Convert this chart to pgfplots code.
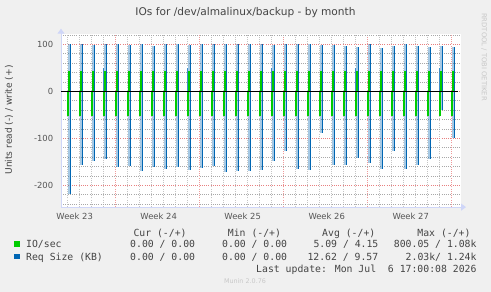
\documentclass[border=0pt]{standalone}
\usepackage{pgfplots}
\pgfplotsset{compat=1.18}
\usepackage{pgfplotstable}
\usetikzlibrary{arrows.meta}
\usepackage{fontspec}
\setmainfont{DejaVu Sans}
\newfontfamily\monof{DejaVu Sans Mono}
\definecolor{bgc}{HTML}{F0F0F0}
\definecolor{axc}{HTML}{CFD6F8}
\definecolor{mgridx}{HTML}{EE9A9A}
\definecolor{mgridy}{HTML}{E88080}
\definecolor{mngridx}{HTML}{C4C4C4}
\definecolor{mngridy}{HTML}{A8A8A8}
\definecolor{mgreen}{HTML}{00CC00}
\definecolor{mblue}{HTML}{0066B3}
\definecolor{txt}{HTML}{444444}
\definecolor{tickc}{HTML}{555555}
\definecolor{faint}{HTML}{C8C8C8}

% d = day grid position; gw/gr = IO/sec write/read; bw/br = Req size write/read; hump = extra write peak
\pgfplotstableread{
d gw gr bw br hump
0.54 44 -53 100 -218 0
1.54 44 -53 100 -156 0
2.54 44 -53 98 -148 0
3.54 44 -53 100 -143 49
4.54 44 -53 100 -160 0
5.54 44 -53 98 -159 0
6.54 44 -53 100 -169 0
7.54 44 -53 96 -160 0
8.54 44 -53 100 -165 0
9.54 44 -53 100 -160 0
10.54 44 -53 98 -167 49
11.54 44 -53 100 -162 0
12.54 44 -53 102 -159 0
13.54 44 -53 100 -171 0
14.54 44 -53 100 -169 0
15.54 44 -53 101 -169 0
16.54 44 -53 100 -166 0
17.54 44 -53 98 -148 51
18.54 44 -53 100 -127 0
19.54 44 -53 101 -165 0
20.54 44 -53 100 -166 0
21.54 44 -53 98 -88 0
22.54 44 -53 98 -156 0
23.54 44 -53 96 -156 0
24.54 44 -53 94 -141 49
25.54 44 -53 101 -152 0
26.54 44 -53 93 -165 0
27.54 44 -53 96 -127 0
28.54 44 -53 100 -165 0
29.54 44 -53 96 -156 0
30.54 44 -53 94 -143 0
31.54 44 -53 97 -40 50
32.54 44 -53 94 -99 0
}\spikes

\begin{document}
\begin{tikzpicture}
\fill[bgc] (0bp,0bp) rectangle (491bp,292bp);
\path[use as bounding box] (0bp,0bp) rectangle (491bp,292bp);
\begin{axis}[
  at={(61bp,84.88bp)}, anchor=south west,
  width=400bp, height=173.43bp, scale only axis,
  xmin=0, xmax=33.333, ymin=-246, ymax=123,
  axis background/.style={fill=white},
  axis lines=left,
  axis line style={draw=axc, line width=1bp},
  x axis line style={-{Triangle[length=5bp,width=7bp]}, shorten >=-5bp},
  y axis line style={-{Triangle[length=5bp,width=7bp]}, shorten >=-5bp},
  xtick={4.54,11.54,18.54,25.54,32.54},
  xticklabels={,,,,},
  minor xtick={0.54,1.54,2.54,3.54,5.54,6.54,7.54,8.54,9.54,10.54,12.54,13.54,14.54,15.54,16.54,17.54,19.54,20.54,21.54,22.54,23.54,24.54,26.54,27.54,28.54,29.54,30.54,31.54},
  extra x ticks={1.14,8.14,15.14,22.14,29.14},
  extra x tick labels={Week 23,Week 24,Week 25,Week 26,Week 27},
  extra x tick style={grid=none, major tick length=0pt},
  ytick={-200,-100,0,100}, yticklabels={-200,-100,0,100},
  minor ytick={-240,-220,-180,-160,-140,-120,-80,-60,-40,-20,20,40,60,80,120},
  grid=both,
  major x grid style={draw=mgridx, line width=1bp, dash pattern=on 1bp off 1.2bp},
  major y grid style={draw=mgridy, line width=1bp, dash pattern=on 1bp off 1.2bp},
  minor x grid style={draw=mngridx, line width=1bp, dash pattern=on 1bp off 1.2bp},
  minor y grid style={draw=mngridy, line width=1bp, dash pattern=on 1bp off 1.2bp},
  major tick length=0pt, minor tick length=0pt,
  tick label style={font=\fontsize{8.4bp}{10bp}\selectfont, text=tickc, inner sep=0pt},
  yticklabel style={anchor=east, xshift=-7.7bp},
  xticklabel style={anchor=north, yshift=-5.4bp},
]
\addplot[ycomb, no markers, draw=mblue, draw opacity=0.35, line width=1.6bp] table[x expr=\thisrow{d}+0.14, y=bw] {\spikes};
\addplot[ycomb, no markers, draw=mblue, draw opacity=0.35, line width=1.6bp] table[x expr=\thisrow{d}+0.14, y=br] {\spikes};
\addplot[ycomb, no markers, draw=mblue!75, line width=1bp] table[x expr=\thisrow{d}, y=hump] {\spikes};
\addplot[ycomb, no markers, draw=mblue, line width=1bp] table[x expr=\thisrow{d}+0.25, y=bw] {\spikes};
\addplot[ycomb, no markers, draw=mblue, line width=1bp] table[x expr=\thisrow{d}+0.25, y=br] {\spikes};
\addplot[ycomb, no markers, draw=mgreen, line width=1.6bp] table[x expr=\thisrow{d}+0.1458, y=gw] {\spikes};
\addplot[ycomb, no markers, draw=mgreen, line width=1.8bp] table[x expr=\thisrow{d}+0.0417, y=gr] {\spikes};
\addplot[black, line width=1bp] coordinates {(0,0) (33.08,0)};
\end{axis}
\node[anchor=base, text=txt, font=\fontsize{10.6bp}{12bp}\selectfont, inner sep=0pt] at (245.5bp,276bp) {IOs for /dev/almalinux/backup - by month};
\node[rotate=90, text=txt, font=\fontsize{9.1bp}{11bp}\selectfont, inner sep=0pt] at (9bp,172bp) {Units read (-) / write (+)};
\node[rotate=-90, text=faint, font=\fontsize{6.8bp}{8bp}\selectfont, inner sep=0pt] at (484bp,235bp) {RRDTOOL / TOBI OETIKER};
\begin{scope}[every node/.style={inner sep=0pt, text=txt, font=\monof\fontsize{9.8bp}{12bp}\selectfont}]
\node[anchor=base west] at (133.3bp,55.3bp) {Cur (-/+)};
\node[anchor=base west] at (227.7bp,55.3bp) {Min (-/+)};
\node[anchor=base west] at (322bp,55.3bp) {Avg (-/+)};
\node[anchor=base east] at (470.7bp,55.3bp) {Max (-/+)};
\fill[mgreen] (14bp,45.3bp) rectangle (19.5bp,50.8bp);
\node[anchor=base west] at (26bp,44.7bp) {IO/sec};
\node[anchor=base west] at (130bp,44.7bp) {0.00 / 0.00};
\node[anchor=base west] at (222bp,44.7bp) {0.00 / 0.00};
\node[anchor=base west] at (313.3bp,44.7bp) {5.09 / 4.15};
\node[anchor=base east] at (476.7bp,44.7bp) {800.05 / 1.08k};
\fill[mblue] (14bp,32.7bp) rectangle (19.5bp,38.2bp);
\node[anchor=base west] at (26bp,32bp) {Req Size (KB)};
\node[anchor=base west] at (130bp,32bp) {0.00 / 0.00};
\node[anchor=base west] at (222bp,32bp) {0.00 / 0.00};
\node[anchor=base west] at (307.3bp,32bp) {12.62 / 9.57};
\node[anchor=base east] at (476.7bp,32bp) {2.03k/ 1.24k};
\node[anchor=base east] at (476.7bp,19.7bp) {Last update: Mon Jul\ \ 6 17:00:08 2026};
\end{scope}
\node[anchor=base, text=faint, font=\fontsize{6.4bp}{8bp}\selectfont, inner sep=0pt] at (245bp,8.7bp) {Munin 2.0.76};
\end{tikzpicture}
\end{document}
